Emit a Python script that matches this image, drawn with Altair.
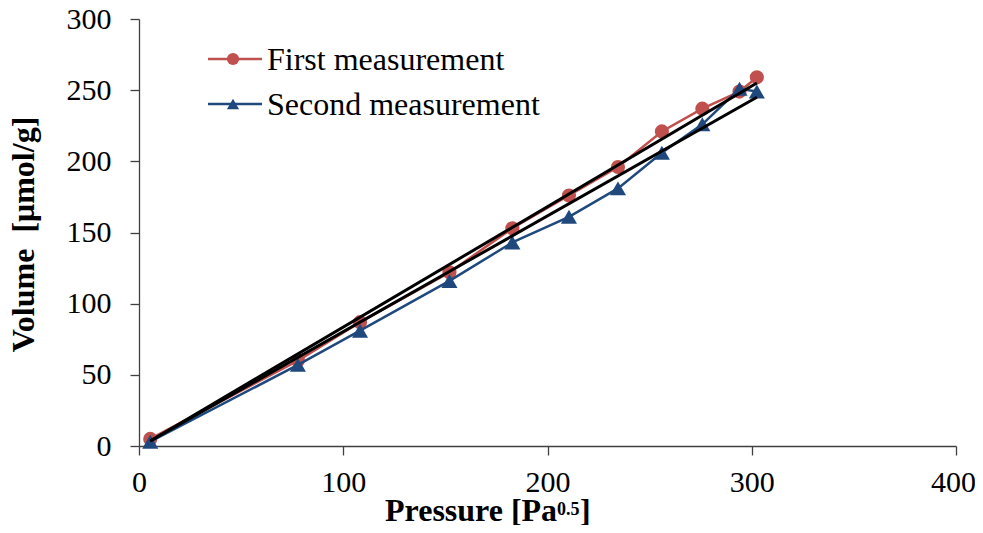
import altair as alt
import pandas as pd

# ---- data ----
pressure = [5.5, 77.8, 108.2, 152.0, 182.8, 210.5, 234.5, 256.0, 275.8, 294.0, 302.5]
first_meas = [5, 60, 87, 122, 153, 176, 196, 221, 237, 249, 259]
second_meas = [3, 57, 81, 116, 143, 161, 181, 206, 226, 251, 249]

fit_x = [5.5, 302.5]
fit_first = [3.5, 255]
fit_second = [3.5, 245]

series_names = ["First measurement", "Second measurement"]
series_colors = ["#C0504D", "#1F497D"]
series_shapes = ["circle", "triangle-up"]
series_sizes = [200, 260]

x_ticks = [0, 100, 200, 300, 400]
y_ticks = [0, 50, 100, 150, 200, 250, 300]

FONT = "Liberation Serif"
AXIS_COLOR = "#404040"

df1 = pd.DataFrame({"p": pressure, "v": first_meas})
df2 = pd.DataFrame({"p": pressure, "v": second_meas})
fit_df = pd.DataFrame({
    "p": fit_x + fit_x,
    "v": fit_first + fit_second,
    "g": ["fit1"] * len(fit_x) + ["fit2"] * len(fit_x),
})

xs = alt.Scale(domain=[0, 400], nice=False, zero=False)
ys = alt.Scale(domain=[0, 300], nice=False, zero=False)

x_enc = alt.X("p:Q", scale=xs, axis=alt.Axis(
    values=x_ticks, title=None, format="d",
    labelOffset=alt.ExprRef(expr="datum.value == 400 ? -3 : 0"),
))
y_enc = alt.Y("v:Q", scale=ys, axis=alt.Axis(
    values=y_ticks, format="d", title="Volume\u00a0\u00a0[μmol/g]",
    titleFont=FONT, titleFontWeight="bold", titleFontSize=32, titleColor="black",
    titleAngle=270, titleX=-106, titleY=215, titleBaseline="alphabetic", titleAlign="center",
))

layers = []
for df, col, shp, sz in zip([df1, df2], series_colors, series_shapes, series_sizes):
    base = alt.Chart(df).encode(x=x_enc, y=y_enc)
    layers.append(base.mark_line(color=col, strokeWidth=2.5))
    layers.append(base.mark_point(color=col, filled=True, opacity=1, shape=shp, size=sz))

layers.append(
    alt.Chart(fit_df).mark_line(color="black", strokeWidth=3).encode(
        x=alt.X("p:Q", scale=xs), y=alt.Y("v:Q", scale=ys), detail="g:N"
    )
)

# ---- legend (inside plot, top-left) ----
for i, (name, col, shp) in enumerate(zip(series_names, series_colors, series_shapes)):
    ly = 40 + 45 * i
    ldf = pd.DataFrame({"label": [name]})
    lc = alt.Chart(ldf)
    layers.append(lc.mark_rule(color=col, strokeWidth=2.5).encode(
        x=alt.value(69), x2=alt.value(123), y=alt.value(ly)))
    layers.append(lc.mark_point(color=col, filled=True, opacity=1, shape=shp, size=150).encode(
        x=alt.value(94), y=alt.value(ly)))
    layers.append(lc.mark_text(align="left", baseline="alphabetic", font=FONT, fontSize=32,
                               color="black").encode(
        x=alt.value(128), y=alt.value(ly + 11), text="label:N"))

# ---- x-axis title with superscript ----
layers.append(alt.Chart(pd.DataFrame({"t": ["Pressure [Pa"]})).mark_text(
    align="left", baseline="alphabetic", font=FONT, fontSize=32, fontWeight="bold", color="black"
).encode(x=alt.value(246), y=alt.value(502), text="t:N"))
layers.append(alt.Chart(pd.DataFrame({"t": ["0.5"]})).mark_text(
    align="left", baseline="alphabetic", font=FONT, fontSize=18, fontWeight="bold", color="black"
).encode(x=alt.value(418), y=alt.value(496), text="t:N"))
layers.append(alt.Chart(pd.DataFrame({"t": ["]"]})).mark_text(
    align="left", baseline="alphabetic", font=FONT, fontSize=32, fontWeight="bold", color="black"
).encode(x=alt.value(441), y=alt.value(502), text="t:N"))

chart = alt.layer(*layers).properties(
    width=817, height=427,
    autosize=alt.AutoSizeParams(type="none"),
    padding={"left": 131, "top": 11, "right": 19, "bottom": 79},
).configure_view(stroke=None).configure_axis(
    grid=False,
    domainColor=AXIS_COLOR, domainWidth=1.3,
    tickColor=AXIS_COLOR, tickWidth=1.3, tickSize=9,
    labelFont=FONT, labelFontSize=30, labelColor="black",
).configure_axisY(labelPadding=19).configure_axisX(labelPadding=12, labelFlush=False)

chart.save("out.html", embed_options={"renderer": "svg", "actions": False})
